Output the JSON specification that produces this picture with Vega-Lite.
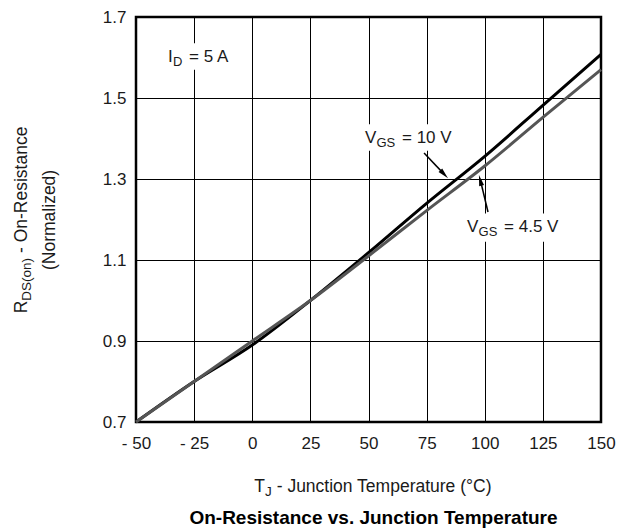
{
  "$schema": "https://vega.github.io/schema/vega-lite/v6.json",
  "width": 465,
  "height": 405,
  "autosize": {"type": "none"},
  "padding": {"left": 136, "top": 17, "right": 34, "bottom": 107},
  "config": {
    "view": {"stroke": "#000", "strokeWidth": 2.5},
    "font": "Liberation Sans",
    "text": {"font": "Liberation Sans", "color": "#1a1a1a", "fontSize": 17}
  },
  "title": {
    "text": "On-Resistance vs. Junction Temperature",
    "orient": "bottom",
    "anchor": "middle",
    "frame": "group",
    "font": "Liberation Sans",
    "fontSize": 19,
    "fontWeight": "bold",
    "color": "#000",
    "baseline": "top",
    "offset": 10,
    "dx": 5
  },
  "data": {
    "values": [
      {"T": -50, "R": 0.70, "VGS": "10 V"},
      {"T": -25, "R": 0.80, "VGS": "10 V"},
      {"T": 0, "R": 0.89, "VGS": "10 V"},
      {"T": 25, "R": 1.00, "VGS": "10 V"},
      {"T": 50, "R": 1.118, "VGS": "10 V"},
      {"T": 75, "R": 1.24, "VGS": "10 V"},
      {"T": 100, "R": 1.356, "VGS": "10 V"},
      {"T": 125, "R": 1.482, "VGS": "10 V"},
      {"T": 150, "R": 1.608, "VGS": "10 V"},
      {"T": -50, "R": 0.70, "VGS": "4.5 V"},
      {"T": -25, "R": 0.80, "VGS": "4.5 V"},
      {"T": 0, "R": 0.90, "VGS": "4.5 V"},
      {"T": 25, "R": 1.00, "VGS": "4.5 V"},
      {"T": 50, "R": 1.11, "VGS": "4.5 V"},
      {"T": 75, "R": 1.222, "VGS": "4.5 V"},
      {"T": 100, "R": 1.332, "VGS": "4.5 V"},
      {"T": 125, "R": 1.452, "VGS": "4.5 V"},
      {"T": 150, "R": 1.570, "VGS": "4.5 V"}
    ]
  },
  "layer": [
    {
      "data": {"values": [{}]},
      "mark": {"type": "rect", "color": "#fff"},
      "encoding": {
        "x": {"datum": -38}, "x2": {"datum": -10},
        "y": {"datum": 1.57}, "y2": {"datum": 1.635}
      }
    },
    {
      "data": {"values": [{}]},
      "mark": {"type": "rect", "color": "#fff"},
      "encoding": {
        "x": {"datum": 47}, "x2": {"datum": 85},
        "y": {"datum": 1.37}, "y2": {"datum": 1.435}
      }
    },
    {
      "data": {"values": [{}]},
      "mark": {"type": "rect", "color": "#fff"},
      "encoding": {
        "x": {"datum": 91}, "x2": {"datum": 131},
        "y": {"datum": 1.145}, "y2": {"datum": 1.215}
      }
    },
    {
      "transform": [{"filter": "datum.VGS === '10 V'"}],
      "mark": {"type": "line", "strokeWidth": 3, "color": "#000", "interpolate": "monotone"},
      "encoding": {
        "x": {
          "field": "T", "type": "quantitative",
          "scale": {"domain": [-50, 150], "nice": false, "zero": false},
          "axis": {
            "title": null,
            "values": [-50, -25, 0, 25, 50, 75, 100, 125, 150],
            "labelExpr": "datum.value < 0 ? '- ' + abs(datum.value) : datum.label",
            "grid": true, "gridColor": "#000", "gridWidth": 1, "gridOpacity": 1,
            "ticks": false, "domain": false,
            "labelFont": "Liberation Sans", "labelFontSize": 17, "labelColor": "#1a1a1a",
            "labelPadding": 13, "labelOverlap": false, "labelFlush": false
          }
        },
        "y": {
          "field": "R", "type": "quantitative",
          "scale": {"domain": [0.7, 1.7], "nice": false, "zero": false},
          "axis": {
            "title": null,
            "values": [0.7, 0.9, 1.1, 1.3, 1.5, 1.7],
            "format": ".1f",
            "grid": true, "gridColor": "#000", "gridWidth": 1, "gridOpacity": 1,
            "ticks": false, "domain": false,
            "labelFont": "Liberation Sans", "labelFontSize": 17, "labelColor": "#1a1a1a",
            "labelPadding": 10, "labelOverlap": false, "labelFlush": false
          }
        }
      }
    },
    {
      "transform": [{"filter": "datum.VGS === '4.5 V'"}],
      "mark": {"type": "line", "strokeWidth": 3, "color": "#555", "interpolate": "monotone"},
      "encoding": {
        "x": {"field": "T", "type": "quantitative"},
        "y": {"field": "R", "type": "quantitative"}
      }
    },
    {
      "data": {"values": [{}]},
      "mark": {"type": "rule", "strokeWidth": 1.5, "color": "#000"},
      "encoding": {
        "x": {"datum": 73.9}, "y": {"datum": 1.364},
        "x2": {"datum": 82.5}, "y2": {"datum": 1.312}
      }
    },
    {
      "data": {"values": [{}]},
      "mark": {"type": "point", "shape": "M0,0L0.5,2.2L-0.5,2.2Z", "filled": true, "color": "#000", "size": 100, "angle": 136, "opacity": 1},
      "encoding": {"x": {"datum": 84.2}, "y": {"datum": 1.302}}
    },
    {
      "data": {"values": [{}]},
      "mark": {"type": "rule", "strokeWidth": 1.5, "color": "#000"},
      "encoding": {
        "x": {"datum": 101.4}, "y": {"datum": 1.2185},
        "x2": {"datum": 98.0}, "y2": {"datum": 1.30}
      }
    },
    {
      "data": {"values": [{}]},
      "mark": {"type": "point", "shape": "M0,0L0.5,2.2L-0.5,2.2Z", "filled": true, "color": "#000", "size": 100, "angle": 346, "opacity": 1},
      "encoding": {"x": {"datum": 97.5}, "y": {"datum": 1.31}}
    },
    {
      "data": {"values": [{}]},
      "mark": {"type": "text", "text": "I", "align": "left", "baseline": "middle"},
      "encoding": {"x": {"datum": -36.2}, "y": {"datum": 1.601}}
    },
    {
      "data": {"values": [{}]},
      "mark": {"type": "text", "text": "D", "align": "left", "baseline": "middle", "fontSize": 13, "dx": 4.8, "dy": 5},
      "encoding": {"x": {"datum": -36.2}, "y": {"datum": 1.601}}
    },
    {
      "data": {"values": [{}]},
      "mark": {"type": "text", "text": "= 5 A", "align": "left", "baseline": "middle", "dx": 21},
      "encoding": {"x": {"datum": -36.2}, "y": {"datum": 1.601}}
    },
    {
      "data": {"values": [{}]},
      "mark": {"type": "text", "text": "V", "align": "left", "baseline": "middle"},
      "encoding": {"x": {"datum": 48.5}, "y": {"datum": 1.401}}
    },
    {
      "data": {"values": [{}]},
      "mark": {"type": "text", "text": "GS", "align": "left", "baseline": "middle", "fontSize": 13, "dx": 11.5, "dy": 5},
      "encoding": {"x": {"datum": 48.5}, "y": {"datum": 1.401}}
    },
    {
      "data": {"values": [{}]},
      "mark": {"type": "text", "text": "= 10 V", "align": "left", "baseline": "middle", "dx": 37},
      "encoding": {"x": {"datum": 48.5}, "y": {"datum": 1.401}}
    },
    {
      "data": {"values": [{}]},
      "mark": {"type": "text", "text": "V", "align": "left", "baseline": "middle"},
      "encoding": {"x": {"datum": 92.4}, "y": {"datum": 1.181}}
    },
    {
      "data": {"values": [{}]},
      "mark": {"type": "text", "text": "GS", "align": "left", "baseline": "middle", "fontSize": 13, "dx": 11.5, "dy": 5},
      "encoding": {"x": {"datum": 92.4}, "y": {"datum": 1.181}}
    },
    {
      "data": {"values": [{}]},
      "mark": {"type": "text", "text": "= 4.5 V", "align": "left", "baseline": "middle", "dx": 37},
      "encoding": {"x": {"datum": 92.4}, "y": {"datum": 1.181}}
    },
    {
      "data": {"values": [{}]},
      "mark": {"type": "text", "text": "T", "align": "left", "baseline": "middle", "fontSize": 17.5, "dx": -114.2},
      "encoding": {"x": {"datum": 50}, "y": {"datum": 0.5395}}
    },
    {
      "data": {"values": [{}]},
      "mark": {"type": "text", "text": "J", "align": "left", "baseline": "middle", "fontSize": 13.5, "dx": -103.5, "dy": 5},
      "encoding": {"x": {"datum": 50}, "y": {"datum": 0.5395}}
    },
    {
      "data": {"values": [{}]},
      "mark": {"type": "text", "text": "- Junction Temperature (°C)", "align": "left", "baseline": "middle", "fontSize": 17.5, "dx": -91.8},
      "encoding": {"x": {"datum": 50}, "y": {"datum": 0.5395}}
    },
    {
      "data": {"values": [{}]},
      "mark": {"type": "text", "text": "R", "align": "left", "baseline": "middle", "angle": 270, "fontSize": 17.5, "dx": -93.4},
      "encoding": {"x": {"datum": -99}, "y": {"datum": 1.199}}
    },
    {
      "data": {"values": [{}]},
      "mark": {"type": "text", "text": "DS(on)", "align": "left", "baseline": "middle", "angle": 270, "fontSize": 13.5, "dx": -80.8, "dy": 5},
      "encoding": {"x": {"datum": -99}, "y": {"datum": 1.199}}
    },
    {
      "data": {"values": [{}]},
      "mark": {"type": "text", "text": "- On-Resistance", "align": "left", "baseline": "middle", "angle": 270, "fontSize": 17.5, "dx": -33.1},
      "encoding": {"x": {"datum": -99}, "y": {"datum": 1.199}}
    },
    {
      "data": {"values": [{}]},
      "mark": {"type": "text", "text": "(Normalized)", "align": "center", "baseline": "middle", "angle": 270, "fontSize": 17.5},
      "encoding": {"x": {"datum": -87}, "y": {"datum": 1.199}}
    }
  ]
}
